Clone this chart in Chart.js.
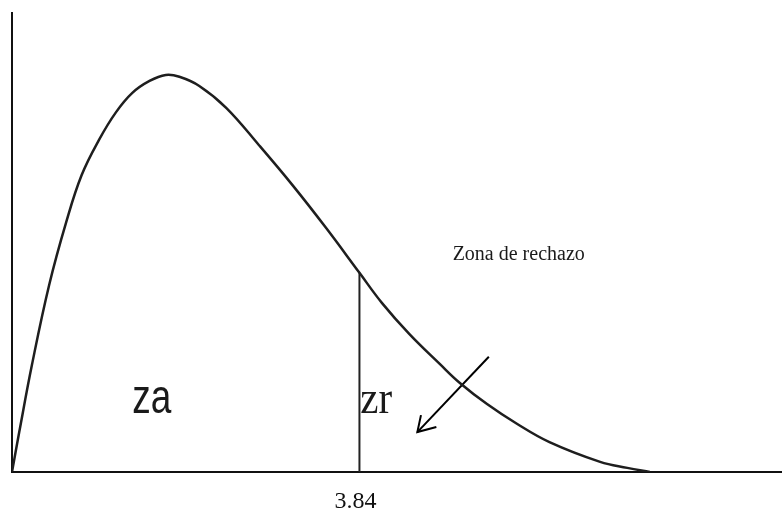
<!DOCTYPE html>
<html>
<head>
<meta charset="utf-8">
<script src="https://cdn.jsdelivr.net/npm/chart.js@4/dist/chart.umd.min.js"></script>
<style>
  html, body { margin: 0; padding: 0; background: #fff; }
  #wrap { width: 782px; height: 510px; position: relative; }
</style>
</head>
<body>
<div id="wrap"><canvas id="chart"></canvas></div>
<script>
// curve (x in statistic units, y as % of axis height)
const curveX = [0, 0.08, 0.22, 0.41, 0.60, 0.77, 0.96, 1.15, 1.33, 1.52, 1.70, 1.85, 2.07, 2.37, 2.73, 3.10, 3.47, 3.84, 4.09, 4.39, 4.73, 4.95, 5.25, 5.58, 5.94, 6.50, 6.80, 7.05];
const curveY = [0, 8.7, 23.3, 40.7, 54.5, 64.7, 72.3, 78.4, 82.6, 85.2, 86.5, 86.1, 84.1, 79.3, 71.2, 62.5, 53.2, 43.4, 36.8, 30.1, 23.5, 19.4, 14.8, 10.5, 6.5, 2.2, 0.9, 0];

// critical value and its divider line
const criticalValue = 3.84;
const criticalHeight = 43.4;

// arrow pointing into the rejection area: tail, tip, two head arms
const arrowX = [5.27, 4.48];
const arrowY = [25.1, 8.7];
const arrowHeadX = [4.52, 4.48, 4.69];
const arrowHeadY = [12.4, 8.7, 9.8];

// text labels anchored in data units
const labels = [
  { text: 'Zona de rechazo', x: 4.87, y: 46.2, font: '20px "Liberation Serif"', sy: 1 },
  { text: 'za', x: 1.33, y: 12.9, font: '37px "Liberation Sans"', sy: 1.3 },
  { text: 'zr', x: 3.85, y: 12.9, font: '41px "Liberation Serif"', sy: 1.12 }
];

const toPoints = (xs, ys) => xs.map((x, i) => ({ x: x, y: ys[i] }));

const textPlugin = {
  id: 'textLabels',
  afterDatasetsDraw(chart) {
    const ctx = chart.ctx;
    const xs = chart.scales.x;
    const ys = chart.scales.y;
    labels.forEach(l => {
      ctx.save();
      ctx.translate(xs.getPixelForValue(l.x), ys.getPixelForValue(l.y));
      ctx.scale(1, l.sy);
      ctx.font = l.font;
      ctx.fillStyle = '#1a1a1a';
      ctx.textAlign = 'left';
      ctx.textBaseline = 'alphabetic';
      ctx.fillText(l.text, 0, 0);
      ctx.restore();
    });
  }
};

const lineStyle = {
  pointRadius: 0,
  fill: false,
  showLine: true
};

new Chart(document.getElementById('chart'), {
  type: 'scatter',
  data: {
    datasets: [{
      ...lineStyle,
      data: toPoints(curveX, curveY),
      borderColor: '#1e1e1e',
      borderWidth: 2.5,
      tension: 0.4
    }, {
      ...lineStyle,
      data: toPoints([criticalValue, criticalValue], [0, criticalHeight]),
      borderColor: '#222',
      borderWidth: 2
    }, {
      ...lineStyle,
      data: toPoints(arrowX, arrowY),
      borderColor: '#000',
      borderWidth: 2
    }, {
      ...lineStyle,
      data: toPoints(arrowHeadX, arrowHeadY),
      borderColor: '#000',
      borderWidth: 2
    }]
  },
  options: {
    responsive: true,
    maintainAspectRatio: false,
    animation: false,
    layout: { padding: { left: 12, top: 13, right: 0, bottom: 0 } },
    plugins: {
      legend: { display: false },
      tooltip: { enabled: false }
    },
    scales: {
      x: {
        type: 'linear',
        min: 0,
        max: 8.51,
        afterBuildTicks: axis => { axis.ticks = [{ value: criticalValue }]; },
        afterFit: axis => { axis.height = 38; },
        grid: { display: false, drawTicks: false },
        border: { display: true, color: '#111', width: 2 },
        ticks: {
          padding: 19,
          labelOffset: -4,
          color: '#111',
          maxRotation: 0,
          autoSkip: false,
          font: { family: '"Liberation Serif"', size: 24, lineHeight: 0.9 },
          callback: v => v.toFixed(2)
        }
      },
      y: {
        type: 'linear',
        min: 0,
        max: 100,
        grid: { display: false, drawTicks: false },
        border: { display: true, color: '#111', width: 2 },
        ticks: { display: false }
      }
    }
  },
  plugins: [textPlugin]
});
</script>
</body>
</html>
